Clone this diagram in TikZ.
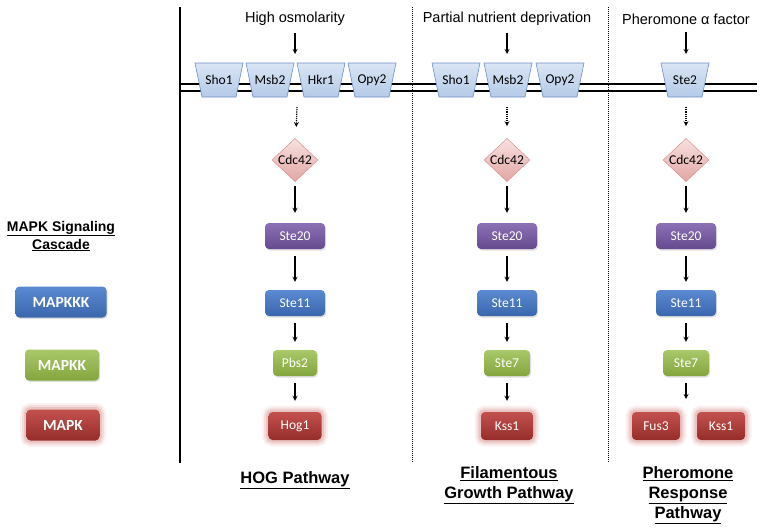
\documentclass[tikz,border=0pt]{standalone}
\usepackage{fontspec}
\setmainfont{Liberation Sans}
\newfontfamily\carlito{Carlito}
\usepackage{tikz}
\usetikzlibrary{arrows,shapes.geometric,shadows}
\definecolor{recA}{HTML}{DAE5F4}
\definecolor{recB}{HTML}{B4CAE8}
\definecolor{recline}{HTML}{6F8FC4}
\definecolor{cdcA}{HTML}{F7E1E0}
\definecolor{cdcB}{HTML}{E2A6A4}
\definecolor{cdcline}{HTML}{CF8886}
\definecolor{purA}{HTML}{8D70B5}
\definecolor{purB}{HTML}{654A8E}
\definecolor{bluA}{HTML}{5B8AD2}
\definecolor{bluB}{HTML}{3A66AC}
\definecolor{grnA}{HTML}{A9C86A}
\definecolor{grnB}{HTML}{84A53D}
\definecolor{redA}{HTML}{C2514E}
\definecolor{redB}{HTML}{962D2A}
\definecolor{glowred}{HTML}{C0504D}
\tikzstyle{stimulus} = [font=\fontsize{14.5}{17}\selectfont]
\tikzstyle{recshape} = [top color=recA, bottom color=recB, draw=recline, line width=0.6pt]
\tikzstyle{reclabel} = [inner sep=0pt, font=\carlito\fontsize{13.5}{15}\selectfont]
\tikzstyle{gtpase} = [diamond, minimum width=46pt, minimum height=42pt, inner sep=0pt, top color=cdcA, bottom color=cdcB, draw=cdcline, font=\carlito\fontsize{13.5}{15}\selectfont]
\tikzstyle{kinase} = [rounded corners=4pt, minimum height=26pt, inner sep=2pt, text=white, font=\carlito\fontsize{13.5}{15}\selectfont, drop shadow={opacity=0.25, shadow xshift=1pt, shadow yshift=-1.5pt}]
\tikzstyle{mapkkk} = [kinase, top color=bluA, bottom color=bluB, minimum width=60pt]
\tikzstyle{mapkk} = [kinase, top color=grnA, bottom color=grnB, minimum width=45pt]
\tikzstyle{mapk} = [rounded corners=4pt, minimum height=28pt, inner sep=2pt, text=white, font=\carlito\fontsize{13.5}{15}\selectfont, top color=redA, bottom color=redB, minimum width=50pt,
  preaction={draw=glowred, line width=13pt, opacity=0.08},
  preaction={draw=glowred, line width=9pt, opacity=0.12},
  preaction={draw=glowred, line width=5pt, opacity=0.18}]
\tikzstyle{pathway} = [align=center, font=\bfseries\fontsize{16.5}{20}\selectfont]
\tikzstyle{arrow} = [line width=1.2pt,->,>=stealth, shorten <=7pt, shorten >=8pt]
\tikzstyle{sigarrow} = [line width=1.2pt,->,>=stealth, densely dotted]
% receptor in the membrane: name, x, label
\newcommand{\receptor}[3]{%
  \draw [recshape] (#2-24,63) -- (#2+24,63) -- (#2+17,97) -- (#2-17,97) -- cycle;
  \node [reclabel] (#1) at (#2,80) {#3};}

\begin{document}
\begin{tikzpicture}[x=1pt,y=-1pt]
\useasboundingbox (0,0) rectangle (762,530);
% column borders and membrane
\draw [line width=1.5pt] (180,7) -- (180,463);
\draw [line width=1pt, densely dotted] (412,7) -- (412,463);
\draw [line width=1pt, densely dotted] (608,7) -- (608,463);
\draw [line width=1.6pt] (180,84) -- (757,84);
\draw [line width=1.6pt] (180,91) -- (757,91);

% legend
\node [align=center, font=\bfseries\fontsize{14}{18}\selectfont] (legend) at (61,236) {\underline{MAPK Signaling}\\\underline{Cascade}};
\node [kinase, top color=bluA, bottom color=bluB, minimum width=91pt, minimum height=31pt, font=\carlito\bfseries\fontsize{15.5}{17}\selectfont] (lkkk) at (61,302) {MAPKKK};
\node [kinase, top color=grnA, bottom color=grnB, minimum width=74pt, minimum height=31pt, font=\carlito\bfseries\fontsize{15.5}{17}\selectfont] (lkk) at (62,365) {MAPKK};
\node [mapk, minimum width=73pt, minimum height=31pt, font=\carlito\bfseries\fontsize{15.5}{17}\selectfont] (lk) at (63,425) {MAPK};

% HOG pathway
\node [stimulus] (osmo) at (295,19) {High osmolarity};
\coordinate (hogin) at (295,54);
\receptor{hogsho}{219}{Sho1}
\receptor{hogmsb}{270}{Msb2}
\receptor{hoghkr}{321}{Hkr1}
\receptor{hogopy}{372}{Opy2}
\coordinate (hogsig) at (297,107);
\node [gtpase] (hogcdc) at (295,160) {Cdc42};
\node [kinase, top color=purA, bottom color=purB, minimum width=60pt] (hogste20) at (295,236) {Ste20};
\node [mapkkk] (hogste11) at (295,303) {Ste11};
\node [mapkk, minimum width=44pt] (hogpbs2) at (295,363) {Pbs2};
\node [mapk, minimum width=53pt] (hoghog1) at (295,426) {Hog1};
\node [pathway] (hogtitle) at (295,480) {\underline{HOG Pathway}};
\draw [line width=1.2pt,->,>=stealth, shorten <=4pt] (osmo) -- (hogin);
\draw [sigarrow, shorten >=12pt] (hogsig) -- (hogcdc);
\draw [arrow, shorten <=4pt, shorten >=10pt] (hogcdc) -- (hogste20);
\draw [arrow] (hogste20) -- (hogste11);
\draw [arrow] (hogste11) -- (hogpbs2);
\draw [arrow, shorten >=11pt] (hogpbs2) -- (hoghog1);

% filamentous growth pathway
\node [stimulus] (starve) at (507,19) {Partial nutrient deprivation};
\coordinate (fgin) at (507,54);
\receptor{fgsho}{456}{Sho1}
\receptor{fgmsb}{508}{Msb2}
\receptor{fgopy}{560}{Opy2}
\coordinate (fgsig) at (507,107);
\node [gtpase] (fgcdc) at (507,160) {Cdc42};
\node [kinase, top color=purA, bottom color=purB, minimum width=60pt] (fgste20) at (507,236) {Ste20};
\node [mapkkk] (fgste11) at (507,303) {Ste11};
\node [mapkk, minimum width=46pt] (fgste7) at (507,363) {Ste7};
\node [mapk, minimum width=52pt] (fgkss1) at (507,426) {Kss1};
\node [pathway] (fgtitle) at (509,485) {\underline{Filamentous}\\\underline{Growth Pathway}};
\draw [line width=1.2pt,->,>=stealth, shorten <=4pt] (starve) -- (fgin);
\draw [sigarrow, shorten >=12pt] (fgsig) -- (fgcdc);
\draw [arrow, shorten <=4pt, shorten >=10pt] (fgcdc) -- (fgste20);
\draw [arrow] (fgste20) -- (fgste11);
\draw [arrow] (fgste11) -- (fgste7);
\draw [arrow, shorten >=11pt] (fgste7) -- (fgkss1);

% pheromone response pathway
\node [stimulus] (alpha) at (686,19) {Pheromone α factor};
\coordinate (phin) at (686,54);
\receptor{phste2}{685}{Ste2}
\coordinate (phsig) at (686,107);
\node [gtpase] (phcdc) at (686,160) {Cdc42};
\node [kinase, top color=purA, bottom color=purB, minimum width=60pt] (phste20) at (686,236) {Ste20};
\node [mapkkk] (phste11) at (686,303) {Ste11};
\node [mapkk, minimum width=46pt] (phste7) at (686,363) {Ste7};
\coordinate (phsplit) at (686,399);
\node [mapk, minimum width=48pt] (phfus3) at (656,426) {Fus3};
\node [mapk, minimum width=48pt] (phkss1) at (721,426) {Kss1};
\node [pathway] (phtitle) at (688,495) {\underline{Pheromone}\\\underline{Response}\\\underline{Pathway}};
\draw [line width=1.2pt,->,>=stealth, shorten <=4pt] (alpha) -- (phin);
\draw [sigarrow, shorten >=12pt] (phsig) -- (phcdc);
\draw [arrow, shorten <=4pt, shorten >=10pt] (phcdc) -- (phste20);
\draw [arrow] (phste20) -- (phste11);
\draw [arrow] (phste11) -- (phste7);
\draw [line width=1.2pt,->,>=stealth, shorten <=7pt] (phste7) -- (phsplit);
\end{tikzpicture}
\end{document}
